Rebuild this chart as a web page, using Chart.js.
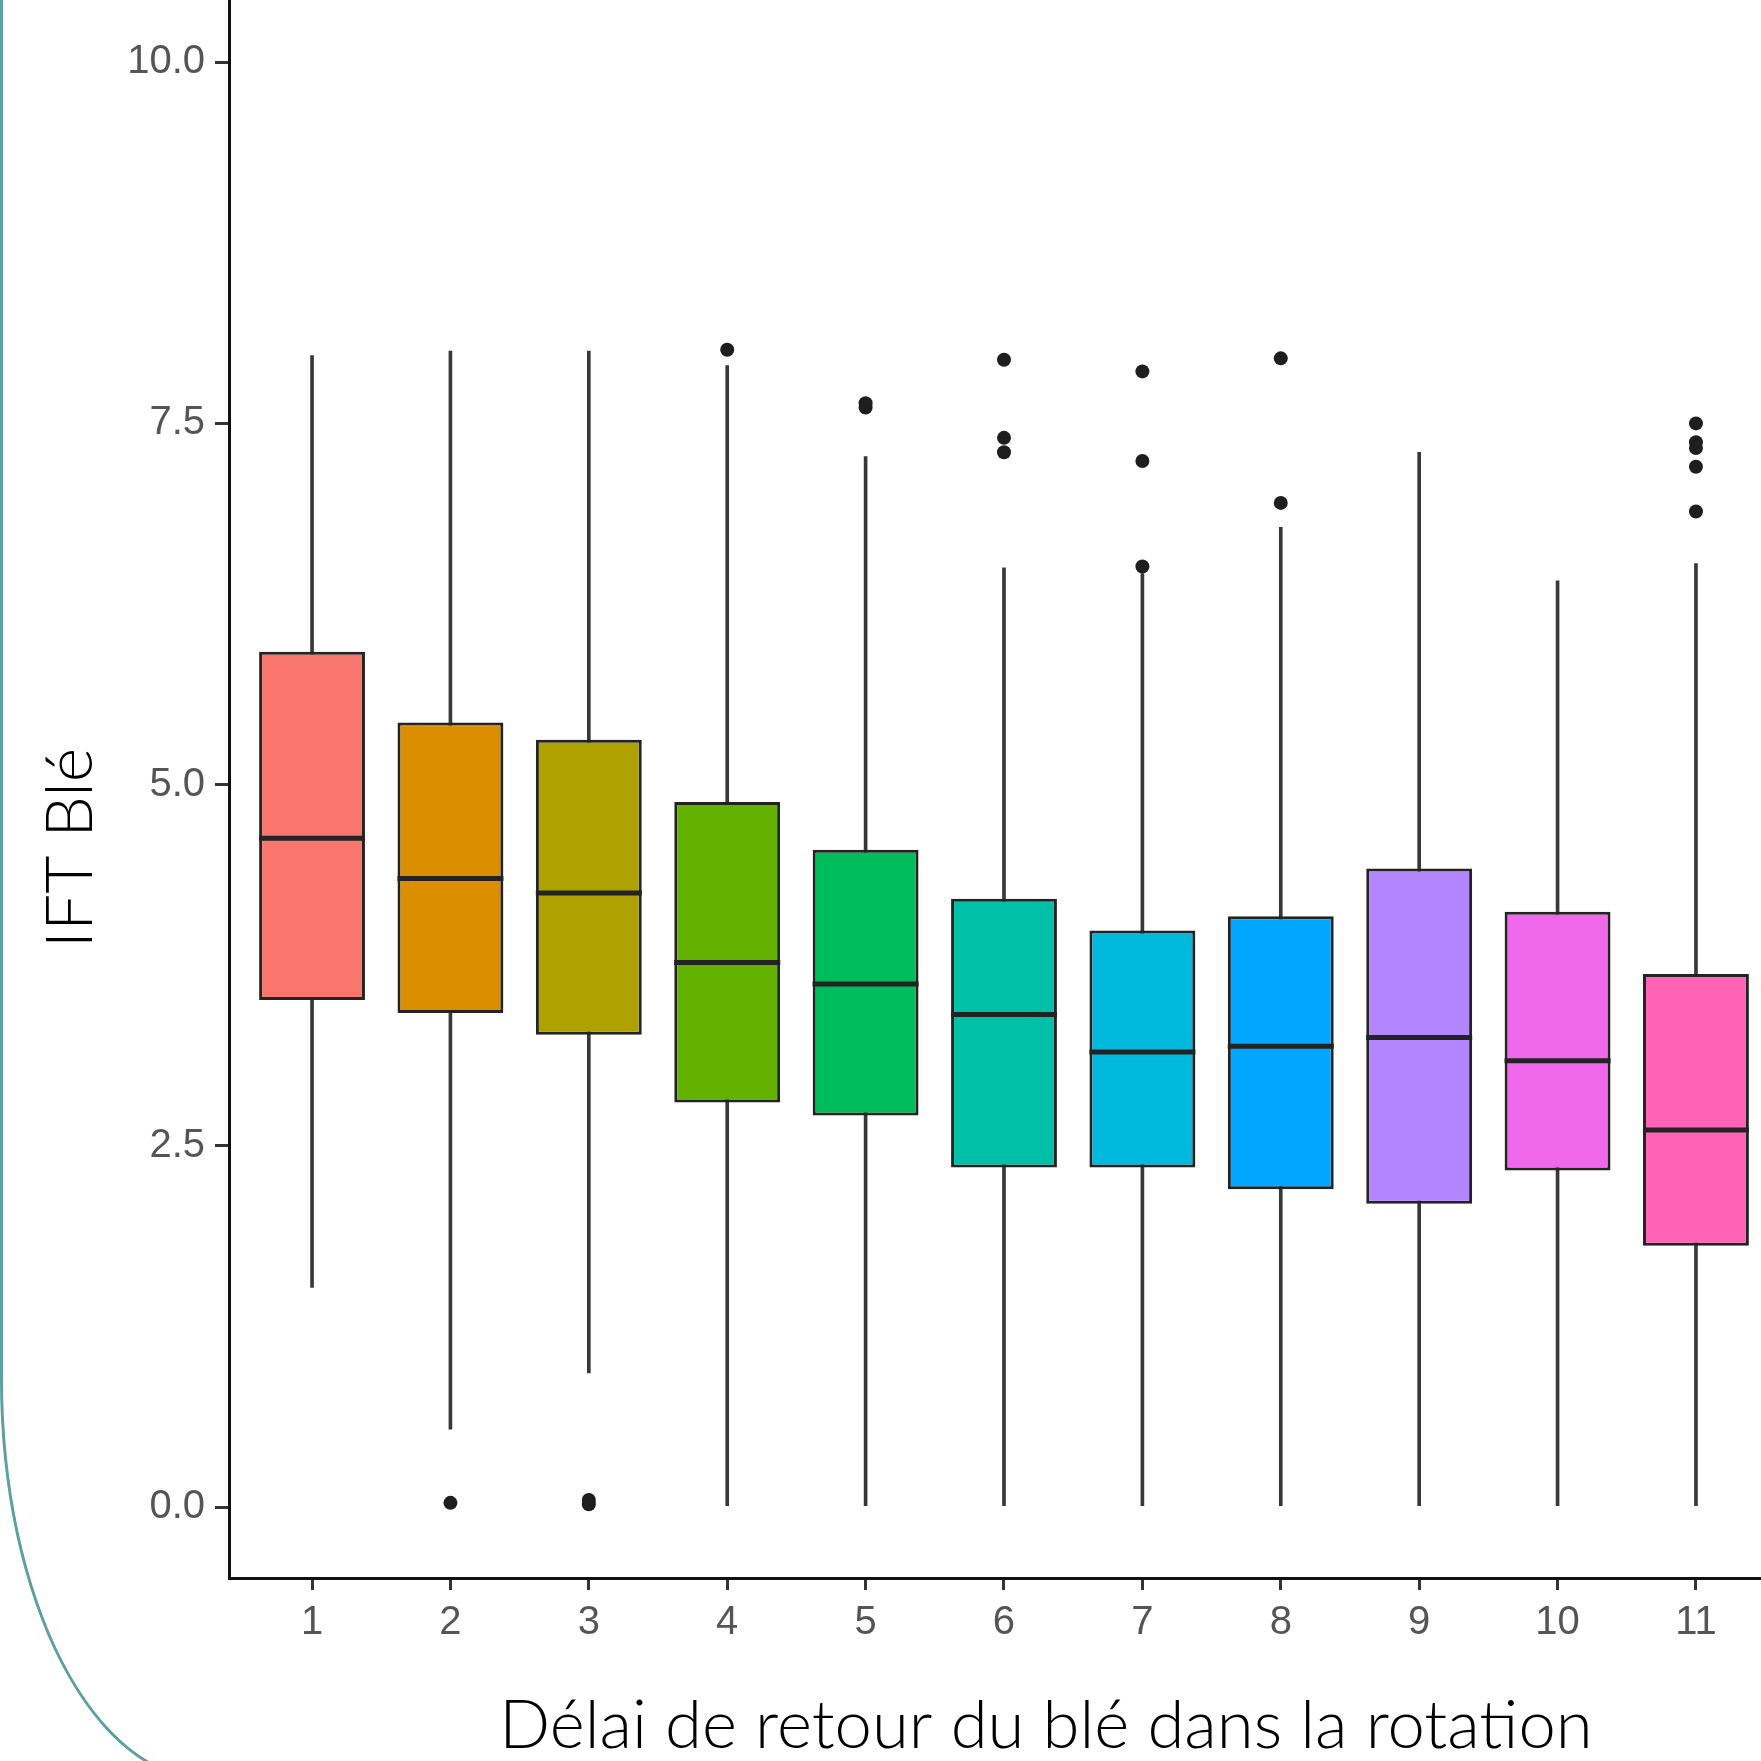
<!DOCTYPE html>
<html>
<head>
<meta charset="utf-8">
<script src="https://cdn.jsdelivr.net/npm/chart.js@4.4.1/dist/chart.umd.min.js"></script>
<style>
  html, body { margin: 0; padding: 0; background: #ffffff; overflow: hidden; }
  #wrap { position: relative; width: 1761px; height: 1761px; }
  #c { position: absolute; left: 0; top: 0; }
  #frame {
    position: absolute; left: 0; top: -20px; width: 2100px; height: 1801px;
    box-sizing: border-box; border: 3px solid #5e9fa1;
    border-bottom-left-radius: 208px 401px; pointer-events: none;
  }
</style>
</head>
<body>
<div id="wrap">
  <canvas id="c" width="1761" height="1761"></canvas>
  <div id="frame"></div>
</div>
<script>
// ---- data ----
const categories  = [1, 2, 3, 4, 5, 6, 7, 8, 9, 10, 11];
const q1          = [3.51, 3.42, 3.27, 2.80, 2.71, 2.35, 2.35, 2.20, 2.10, 2.33, 1.81];
const median      = [4.63, 4.35, 4.25, 3.77, 3.62, 3.41, 3.15, 3.19, 3.25, 3.09, 2.61];
const q3          = [5.92, 5.43, 5.31, 4.88, 4.55, 4.21, 3.99, 4.09, 4.42, 4.12, 3.69];
const whiskerLow  = [1.52, 0.54, 0.93, 0, 0, 0, 0, 0, 0, 0, 0];
const whiskerHigh = [7.97, 8.00, 8.00, 7.90, 7.27, 6.50, 6.46, 6.78, 7.30, 6.41, 6.53];
const outlierCat  = [2, 3, 3, 4, 5, 5, 6, 6, 6, 7, 7, 7, 8, 8, 11, 11, 11, 11, 11];
const outlierVal  = [0.03, 0.02, 0.05, 8.01, 7.61, 7.64, 7.94, 7.40, 7.30, 7.86, 7.24, 6.51, 7.95, 6.95, 7.50, 7.37, 7.33, 7.20, 6.89];
const yTickValues = [0, 2.5, 5, 7.5, 10];
const xTickValues = categories;
const boxColors   = ['#F8766D', '#DB8E00', '#AEA200', '#64B200', '#00BD5C', '#00C1A7',
                     '#00BADE', '#00A6FF', '#B385FF', '#EF67EB', '#FF63B6'];
const xTitle = 'Délai de retour du blé dans la rotation';
const yTitle = 'IFT Blé';

// ---- datasets built from the arrays ----
const whiskerData = categories.map((c, i) => ({ x: c, y: [whiskerLow[i], whiskerHigh[i]] }));
const boxData     = categories.map((c, i) => ({ x: c, y: [q1[i], q3[i]] }));
const medianData  = categories.map((c, i) => ({ x: c, y: median[i] }));
const outlierData = outlierCat.map((c, i) => ({ x: c, y: outlierVal[i] }));

const titlePlugin = {
  id: 'axisTitles',
  afterDraw(chart) {
    const ctx = chart.ctx;
    ctx.save();
    ctx.fillStyle = '#000000';
    ctx.font = '300 67px Lato';
    ctx.textAlign = 'center';
    ctx.textBaseline = 'alphabetic';
    ctx.fillText(xTitle, 1046, 1748);
    ctx.font = '300 66px Lato';
    ctx.translate(92, 848);
    ctx.rotate(-Math.PI / 2);
    ctx.fillText(yTitle, 0, 0);
    ctx.restore();
  }
};

const tickFont = { family: 'Liberation Sans', size: 40 };

new Chart(document.getElementById('c'), {
  type: 'bar',
  data: {
    datasets: [
      {
        label: 'whiskers', data: whiskerData, grouped: false, order: 3,
        backgroundColor: '#383838', borderWidth: 0, barThickness: 3
      },
      {
        label: 'boxes', data: boxData, grouped: false, order: 2,
        backgroundColor: boxColors, borderColor: '#232323', borderWidth: 3,
        borderSkipped: false, barPercentage: 0.765, categoryPercentage: 1.0
      },
      {
        type: 'scatter', label: 'median', data: medianData, order: 1,
        pointStyle: 'line', pointRadius: 53, pointBorderWidth: 5,
        borderColor: '#232323', backgroundColor: '#232323', showLine: false
      },
      {
        type: 'scatter', label: 'outliers', data: outlierData, order: 0,
        pointStyle: 'circle', pointRadius: 7, pointBorderWidth: 0,
        backgroundColor: '#1e1e1e', borderColor: '#1e1e1e', showLine: false
      }
    ]
  },
  options: {
    responsive: false,
    animation: false,
    events: [],
    layout: { padding: 0, autoPadding: false },
    plugins: { legend: { display: false }, tooltip: { enabled: false } },
    scales: {
      x: {
        type: 'linear', min: 0.4, max: 11.47, offset: false,
        afterBuildTicks: (s) => { s.ticks = xTickValues.map(v => ({ value: v })); },
        afterFit: (s) => { s.height = 183; s.paddingLeft = 0; s.paddingRight = 0; },
        ticks: { font: tickFont, color: '#555555', padding: 9,
                 callback: (v) => String(v), maxRotation: 0, autoSkip: false },
        grid: { offset: false, drawOnChartArea: false, drawTicks: true, tickLength: 12,
                color: '#333333', lineWidth: 3 },
        border: { display: true, color: '#111111', width: 3 }
      },
      y: {
        type: 'linear', min: -0.49, max: 10.43,
        afterBuildTicks: (s) => { s.ticks = yTickValues.map(v => ({ value: v })); },
        afterFit: (s) => { s.width = 229; s.paddingTop = 0; s.paddingBottom = 0; },
        ticks: { font: tickFont, color: '#555555', padding: 10,
                 callback: (v) => Number(v).toFixed(1) },
        grid: { offset: false, drawOnChartArea: false, drawTicks: true, tickLength: 14,
                color: '#333333', lineWidth: 3 },
        border: { display: true, color: '#111111', width: 3 }
      }
    }
  },
  plugins: [titlePlugin]
});
</script>
</body>
</html>
